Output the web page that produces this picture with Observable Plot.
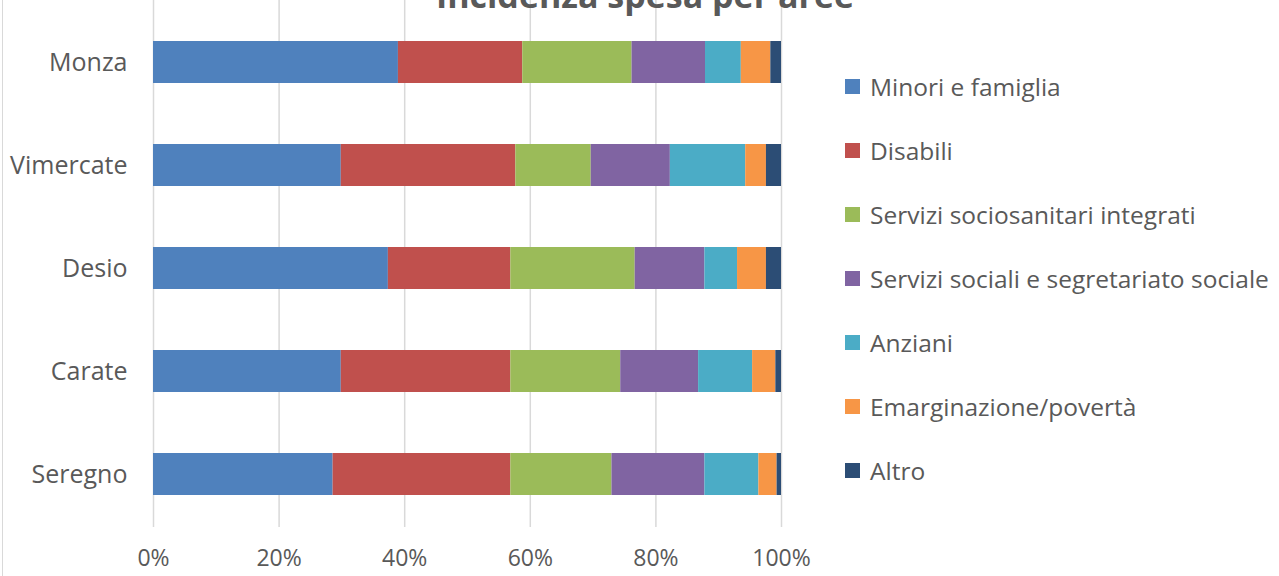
<!DOCTYPE html>
<html>
<head>
<meta charset="utf-8">
<script src="https://cdn.jsdelivr.net/npm/d3@7"></script>
<script src="https://cdn.jsdelivr.net/npm/@observablehq/plot@0.6"></script>
<style>
  html, body { margin: 0; padding: 0; background: #fff; overflow: hidden; }
  #wrap { position: relative; width: 1279px; height: 576px; font-family: "Open Sans", sans-serif; color: #595959; }
  #title { position: absolute; left: 0; top: -22px; width: 1290px; text-align: center; font-size: 34px; line-height: 34px; font-weight: bold; color: #595959; white-space: nowrap; }
  #border { position: absolute; left: 2px; top: 0; width: 0; height: 576px; border-left: 1.5px solid #d9d9d9; }
  #legend { position: absolute; left: 845px; top: 0; }
  .item { position: absolute; left: 0; display: flex; align-items: center; white-space: nowrap; font-size: 24.5px; color: #595959; }
  .sw { width: 15px; height: 15px; margin-right: 10px; flex: none; }
  #chart { position: absolute; left: 0; top: 0; }
</style>
</head>
<body>
<div id="wrap">
  <div id="chart"></div>
  <div id="border"></div>
  <div id="title">Incidenza spesa per aree</div>
  <div id="legend"></div>
</div>
<script>
const categories = ["Monza", "Vimercate", "Desio", "Carate", "Seregno"];
const series = ["Minori e famiglia", "Disabili", "Servizi sociosanitari integrati", "Servizi sociali e segretariato sociale", "Anziani", "Emarginazione/povertà", "Altro"];
const colors = ["#4F81BD", "#C0504D", "#9BBB59", "#8064A2", "#4BACC6", "#F79646", "#2C4D75"];
// percentage shares per series, in category order
const minoriFamiglia = [39.0, 29.9, 37.4, 29.9, 28.6];
const disabili       = [19.8, 27.8, 19.5, 27.0, 28.3];
const sociosanitari  = [17.4, 12.0, 19.8, 17.5, 16.1];
const serviziSociali = [11.7, 12.6, 11.1, 12.4, 14.8];
const anziani        = [5.7, 12.0, 5.2, 8.6, 8.6];
const emarginazione  = [4.7, 3.3, 4.6, 3.7, 2.9];
const altro          = [1.7, 2.4, 2.4, 0.9, 0.7];
const xTicks = [0, 0.2, 0.4, 0.6, 0.8, 1];

const seriesValues = [minoriFamiglia, disabili, sociosanitari, serviziSociali, anziani, emarginazione, altro];
const data = [];
series.forEach((s, i) => categories.forEach((c, j) => data.push({category: c, series: s, value: seriesValues[i][j]})));

const chart = Plot.plot({
  width: 1279,
  height: 576,
  marginLeft: 153,
  marginRight: 498,
  marginTop: 0,
  marginBottom: 49,
  style: {fontFamily: "'Open Sans', sans-serif", fontSize: "23px", color: "#595959", background: "transparent"},
  x: {domain: [0, 1], ticks: xTicks, tickFormat: d3.format(".0%"), label: null, tickSize: 0, tickPadding: 22},
  y: {domain: categories, range: [9.25, 526.75], paddingInner: 0.59, paddingOuter: 0.295, label: null, tickSize: 0, tickPadding: 26},
  color: {domain: series, range: colors},
  marks: [
    Plot.gridX(xTicks, {stroke: "#d9d9d9", strokeOpacity: 1, strokeWidth: 1.5}),
    Plot.barX(data, Plot.stackX({x: "value", y: "category", fill: "series", order: series, offset: "normalize"})),
    Plot.axisX({ticks: xTicks, tickFormat: d3.format(".0%"), tickSize: 0, tickPadding: 22, label: null, fill: "#595959", fontSize: 23}),
    Plot.axisY({tickSize: 0, tickPadding: 26, label: null, fill: "#595959", fontSize: 25})
  ]
});
document.getElementById("chart").appendChild(chart);

const legend = document.getElementById("legend");
const legendY = [86, 150, 214, 278, 342, 406, 470];
series.forEach((s, i) => {
  const it = document.createElement("div");
  it.className = "item";
  it.style.top = (legendY[i] - 16) + "px";
  it.style.height = "32px";
  const sw = document.createElement("span");
  sw.className = "sw";
  sw.style.background = colors[i];
  const t = document.createElement("span");
  t.textContent = s;
  it.appendChild(sw); it.appendChild(t);
  legend.appendChild(it);
});
</script>
</body>
</html>
